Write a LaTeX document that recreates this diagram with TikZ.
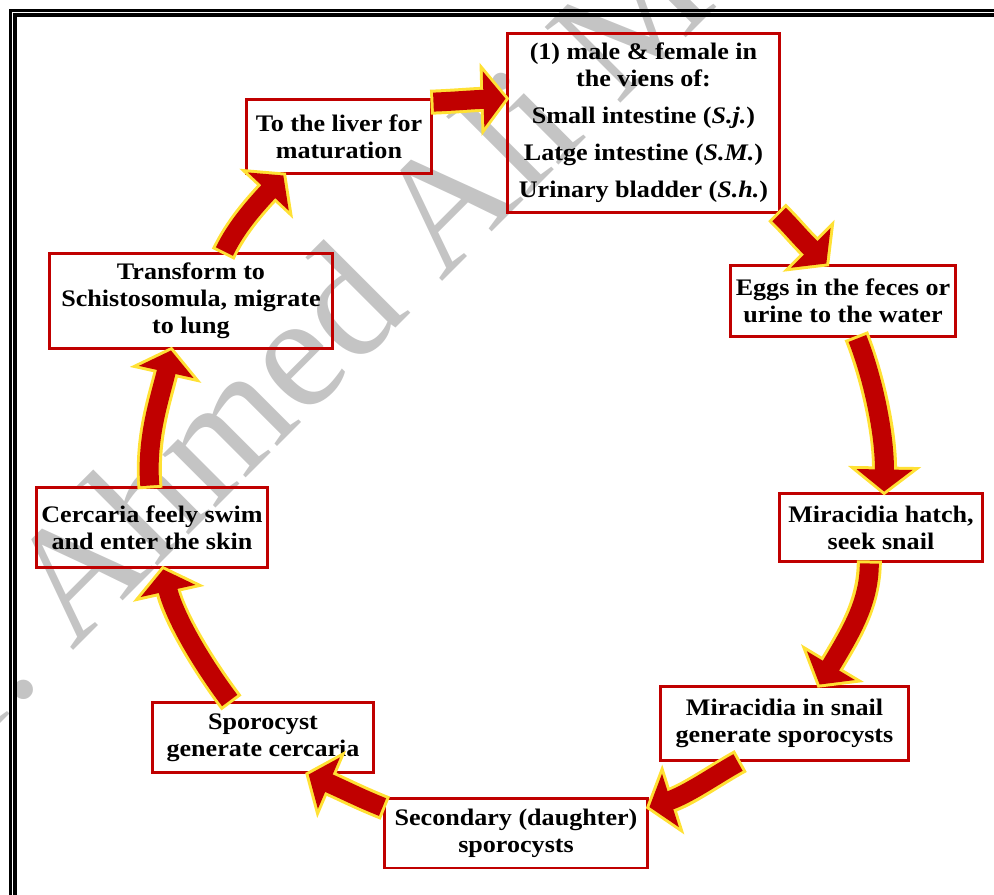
\documentclass[tikz,border=0pt]{standalone}
\usepackage{fontspec}
\setmainfont{Liberation Serif}
\newfontfamily\stagefont{Liberation Serif}[FakeStretch=1.1]
\usepackage{xcolor}
\usepackage{tikz}
\usetikzlibrary{calc}
\definecolor{BoxRed}{HTML}{C00000}
\definecolor{ArrowRed}{HTML}{C00000}
\definecolor{ArrowRim}{HTML}{FFE135}
\definecolor{Stamp}{HTML}{C4C4C4}

\newcommand{\headlen}{0.44cm}
\newcommand{\headhalf}{0.56cm}

\tikzset{
  stage/.style={draw=BoxRed, line width=0.06cm, align=center, inner sep=0pt,
    font=\stagefont\bfseries\fontsize{13.5}{15.4}\selectfont},
  stamp/.style={text=Stamp, inner sep=0pt, font=\fontsize{93}{100}\selectfont},
  rim/.style={draw=ArrowRim, line width=0.5cm, shorten <=-0.06cm, shorten >=0.42cm},
  body/.style={draw=ArrowRed, line width=0.38cm, shorten >=0.36cm},
  rimhead/.style={fill=ArrowRim, draw=ArrowRim, line width=0.12cm, line join=miter},
  bodyhead/.style={fill=ArrowRed},
}

% curved block arrow: from, first control (relative), second control (relative to tip), tip
\newcommand{\cyclearrow}[4]{%
  \path (#1) coordinate (ta) ++(#2) coordinate (tA);
  \path (#4) coordinate (tb) ++(#3) coordinate (tB);
  \path ($(tb)!\headlen!(tB)$) coordinate (th);
  \path ($(th)!\headhalf!90:(tb)$) coordinate (tw) ($(th)!\headhalf!-90:(tb)$) coordinate (tv);
  \draw[rim] (ta) .. controls (tA) and (tB) .. (tb);
  \draw[rimhead] (tw) -- (tb) -- (tv) -- cycle;
  \draw[body] (ta) .. controls (tA) and (tB) .. (tb);
  \fill[bodyhead] (tw) -- (tb) -- (tv) -- cycle;
}

\begin{document}
\begin{tikzpicture}[x=0.02cm,y=-0.02cm]
  \useasboundingbox (0,0) rectangle (994,895);
  \clip (0,0) rectangle (994,895);

  % watermark
  \node[stamp, rotate=45, anchor=base west] (mark) at (72,652) {\llap{Dr.\ }Ahmed Ali M};

  % page frame
  \draw[line width=0.05cm] (10.6,920) -- (10.6,10.6) -- (1020,10.6);
  \draw[line width=0.072cm] (15.2,920) -- (15.2,15.2) -- (1020,15.2);

  % stages
  \node[stage, minimum width=5.46cm, minimum height=3.6cm] (male) at (643.5,123)
    {(1) male \& female in\\ the viens of:\\[0.2cm]
     Small intestine (\textit{S.j.})\\[0.2cm]
     Latge intestine (\textit{S.M.})\\[0.2cm]
     Urinary bladder (\textit{S.h.})};
  \node[stage, minimum width=4.52cm, minimum height=1.44cm] (eggs) at (843,301)
    {Eggs in the feces or\\ urine to the water};
  \node[stage, minimum width=4.08cm, minimum height=1.38cm] (hatch) at (881,527.5)
    {Miracidia hatch,\\ seek snail};
  \node[stage, minimum width=4.98cm, minimum height=1.5cm] (snail) at (784.5,723.5)
    {Miracidia in snail\\ generate sporocysts};
  \node[stage, minimum width=5.28cm, minimum height=1.4cm] (second) at (516,833)
    {Secondary (daughter)\\ sporocysts};
  \node[stage, minimum width=4.44cm, minimum height=1.42cm] (sporo) at (263,737.5)
    {Sporocyst\\ generate cercaria};
  \node[stage, minimum width=4.64cm, minimum height=1.62cm] (cerc) at (152,527.5)
    {Cercaria feely swim\\ and enter the skin};
  \node[stage, minimum width=5.68cm, minimum height=1.92cm] (trans) at (191,301)
    {Transform to\\ Schistosomula, migrate\\ to lung};
  \node[stage, minimum width=3.72cm, minimum height=1.5cm] (liver) at (339,136.5)
    {To the liver for\\ maturation};

  % cycle arrows
  \cyclearrow{liver.20}{25,-1}{-35,1}{male.170}
  \cyclearrow{male.-34}{15,15}{-30,-30}{eggs.114}
  \cyclearrow{eggs.-69}{14,35}{1,-60}{hatch.85}
  \cyclearrow{hatch.-108}{0,40}{30,-50}{snail.48}
  \cyclearrow{snail.-140}{-22,12}{38,-12}{second.11}
  \cyclearrow{second.169}{-25,-10}{35,15}{sporo.-39}
  \cyclearrow{sporo.132}{-30,-40}{10,45}{cerc.-75}
  \cyclearrow{cerc.93}{-4,-50}{-10,45}{trans.-112}
  \cyclearrow{trans.56}{12,-25}{-28,30}{liver.-145}
\end{tikzpicture}
\end{document}
